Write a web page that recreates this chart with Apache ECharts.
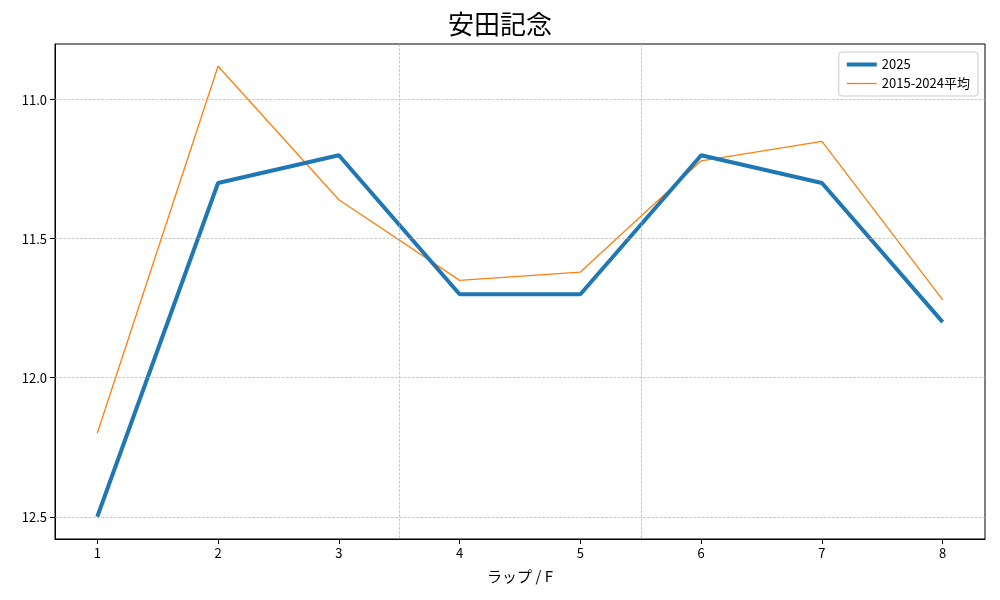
<!DOCTYPE html><html><head><meta charset="utf-8"><script src="https://cdn.jsdelivr.net/npm/echarts@6/dist/echarts.min.js"></script></head><body style="margin:0"><div id="c" style="width:1000px;height:600px"></div><script>
const laps=[1,2,3,4,5,6,7,8];
const y2025=[12.5,11.3,11.2,11.7,11.7,11.2,11.3,11.8];
const yAvg=[12.2,10.88,11.36,11.65,11.62,11.22,11.15,11.72];
const yTicks=[11.0,11.5,12.0,12.5];
const sections=[3.5,5.5];
const F='"Noto Sans CJK JP", sans-serif';
const c=echarts.init(document.getElementById('c'));
c.setOption({animation:false,
title:{text:'安田記念',left:'center',top:6,textStyle:{fontFamily:F,fontSize:26,fontWeight:'normal',color:'#000'}},
legend:{right:22,top:52,orient:'vertical',itemGap:6,borderColor:'#ccc',borderWidth:1,borderRadius:3,padding:[6,8],itemWidth:30,textStyle:{fontFamily:F,fontSize:13,color:'#000'},
 data:[{name:'2025',icon:'path://M0,0H30V4H0Z',itemStyle:{color:'#1f77b4'}},{name:'2015-2024平均',icon:'path://M0,0H30V1.3H0Z',itemStyle:{color:'#ff7f0e'}}]},
grid:{left:55,right:15,top:44,bottom:61,show:true,borderColor:'#000',borderWidth:1,backgroundColor:'transparent'},
xAxis:{type:'value',min:0.65,max:8.35,name:'ラップ / F',nameLocation:'middle',nameGap:30,nameTextStyle:{fontFamily:F,fontSize:15,color:'#000'},
 axisLine:{onZero:false,lineStyle:{color:'#000'}},axisTick:{customValues:laps,lineStyle:{color:'#000'}},axisLabel:{customValues:laps,color:'#000',fontSize:13,fontFamily:F},splitLine:{show:false}},
yAxis:{type:'value',inverse:true,min:10.8,max:12.58,axisLine:{show:true,lineStyle:{color:'#000'}},axisTick:{show:true,customValues:yTicks,lineStyle:{color:'#000'}},axisLabel:{customValues:yTicks,color:'#000',fontSize:13,fontFamily:F,formatter:v=>v.toFixed(1)},splitLine:{show:false}},
series:[{name:'2025',type:'line',data:laps.map((x,i)=>[x,y2025[i]]),symbol:'none',lineStyle:{width:4,color:'#1f77b4'},itemStyle:{color:'#1f77b4'},z:3,
 markLine:{silent:true,symbol:'none',label:{show:false},lineStyle:{type:'dashed',color:'#b0b0b0',width:0.7},data:[...yTicks.map(v=>({yAxis:v})),...sections.map(v=>({xAxis:v}))]}},
{name:'2015-2024平均',type:'line',data:laps.map((x,i)=>[x,yAvg[i]]),symbol:'none',lineStyle:{width:1.3,color:'#ff7f0e'},itemStyle:{color:'#ff7f0e'},z:2}]});
</script></body></html>
